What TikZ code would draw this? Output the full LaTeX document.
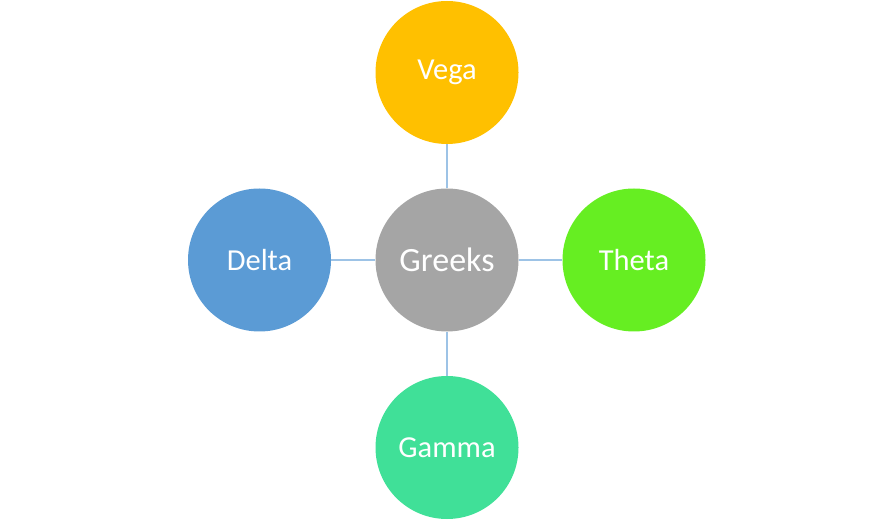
\documentclass[tikz,border=0pt]{standalone}
\usepackage{fontspec}
\setmainfont{Carlito}
\definecolor{cvega}{HTML}{FFC000}
\definecolor{cgreeks}{HTML}{A5A5A5}
\definecolor{cdelta}{HTML}{5B9BD5}
\definecolor{ctheta}{HTML}{66EE22}
\definecolor{cgamma}{HTML}{40E098}
\definecolor{cline}{HTML}{9DC3E6}
\begin{document}
\begin{tikzpicture}[x=1pt,y=-1pt,
  bub/.style={circle,minimum size=143pt,inner sep=0pt,text=white,font=\fontsize{30.5}{36}\selectfont},
  link/.style={draw=cline,line width=2pt}]
\useasboundingbox (0,0) rectangle (894,526);
\node[bub,fill=cgreeks,font=\fontsize{34}{40}\selectfont] (g) at (447,260) {Greeks};
\node[bub,fill=cvega] (v) at (447,72.5) {Vega};
\node[bub,fill=cdelta] (d) at (259.5,260) {Delta};
\node[bub,fill=ctheta] (t) at (634,260) {Theta};
\node[bub,fill=cgamma] (m) at (447,447.5) {Gamma};
\draw[link] (g) -- (v);
\draw[link] (g) -- (d);
\draw[link] (g) -- (t);
\draw[link] (g) -- (m);
\end{tikzpicture}
\end{document}
